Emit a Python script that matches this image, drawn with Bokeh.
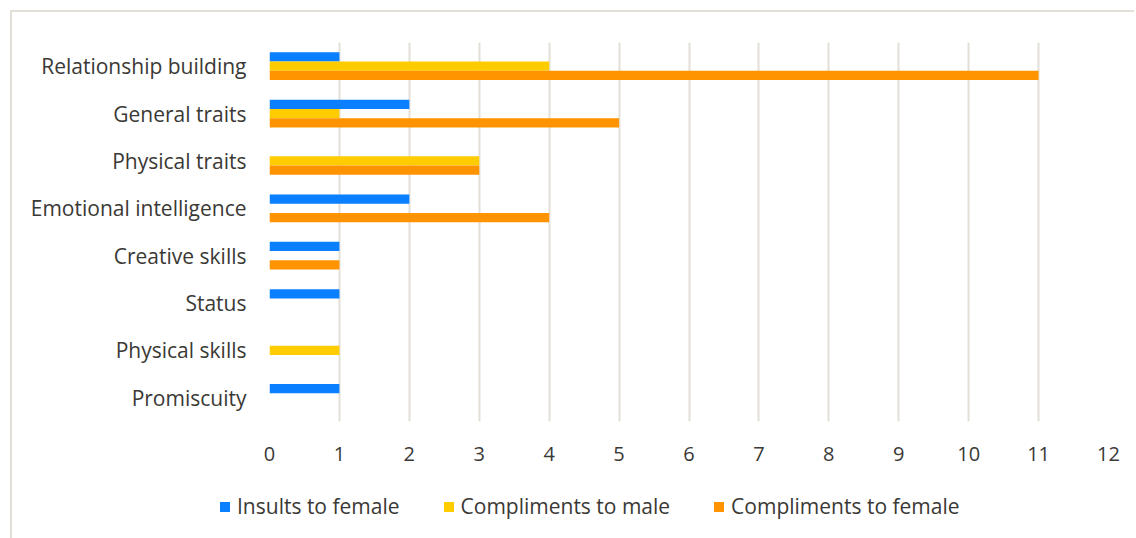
from bokeh.plotting import figure
from bokeh.layouts import column
from bokeh.models import FactorRange, Range1d, Legend, LegendItem, ColumnDataSource, FixedTicker
from bokeh.transform import dodge
from bokeh.embed import file_html
from bokeh.resources import INLINE

categories = ["Relationship building", "General traits", "Physical traits",
              "Emotional intelligence", "Creative skills", "Status",
              "Physical skills", "Promiscuity"]
insults_female = [1, 2, 0, 2, 1, 1, 0, 1]
compliments_male = [4, 1, 3, 0, 0, 0, 1, 0]
compliments_female = [11, 5, 3, 4, 1, 0, 0, 0]
series_names = ["Insults to female", "Compliments to male", "Compliments to female"]
colors = ["#0A7FFF", "#FFCC00", "#FF9400"]
x_ticks = list(range(0, 13))

src = ColumnDataSource(dict(cat=categories, a=insults_female, b=compliments_male, c=compliments_female))

FONT = "Open Sans"
TXT = "#3a3935"
W = 1122

p = figure(width=W, height=458, output_backend="svg", toolbar_location=None,
           y_range=FactorRange(factors=categories[::-1]), x_range=Range1d(0, 12),
           min_border_left=257, min_border_right=26, min_border_top=30, min_border_bottom=49)
p.outline_line_color = None
p.frame_align = False

bh = 0.195
offsets = [bh, 0.0, -bh]
renderers = []
for col, off, color in zip(["a", "b", "c"], offsets, colors):
    r = p.hbar(y=dodge("cat", off, range=p.y_range), right=col, left=0, height=bh,
               source=src, fill_color=color, line_color=None)
    renderers.append(r)

p.xgrid.grid_line_color = "#e3dfd7"
p.xgrid.grid_line_width = 2
p.ygrid.grid_line_color = None
p.xaxis.ticker = FixedTicker(ticks=x_ticks)
for ax in (p.xaxis[0], p.yaxis[0]):
    ax.axis_line_color = None
    ax.major_tick_line_color = None
    ax.minor_tick_line_color = None
    ax.major_label_text_font = FONT
    ax.major_label_text_color = TXT
p.yaxis.major_label_text_font_size = "21px"
p.xaxis.major_label_text_font_size = "20px"
p.xaxis.major_label_standoff = 19
p.yaxis.major_label_standoff = 17

# legend strip (separate figure so the legend can sit left of the chart frame)
q = figure(width=W, height=68, output_backend="svg", toolbar_location=None,
           x_range=Range1d(0, 1), y_range=Range1d(0, 1),
           min_border_left=0, min_border_right=0, min_border_top=0, min_border_bottom=0)
q.frame_align = False
q.axis.visible = False
q.grid.grid_line_color = None
q.outline_line_color = None
proxies = []
for col, color in zip(["a", "b", "c"], colors):
    d = q.scatter(x=col, y=col, marker="square", size=10, source=src,
                  fill_color=color, line_color=None, visible=False)
    proxies.append(d)

legend = Legend(items=[LegendItem(label=n, renderers=[r]) for n, r in zip(series_names, proxies)],
                orientation="horizontal", location=(200, 18))
legend.label_text_font = FONT
legend.label_text_font_size = "21px"
legend.label_text_color = TXT
legend.glyph_width = 25
legend.glyph_height = 25
legend.label_standoff = -4
legend.spacing = 36
legend.padding = 0
legend.margin = 0
legend.border_line_color = None
legend.background_fill_alpha = 0
legend.inactive_fill_alpha = 0
legend.label_height = 20
q.add_layout(legend, "center")

layout = column(p, q, spacing=0)
layout.styles = {"margin-left": "10px", "margin-top": "10px",
                 "border-left": "2px solid #e3dfd7", "border-top": "2px solid #e3dfd7"}

open("out.html", "w").write(file_html(layout, INLINE))
